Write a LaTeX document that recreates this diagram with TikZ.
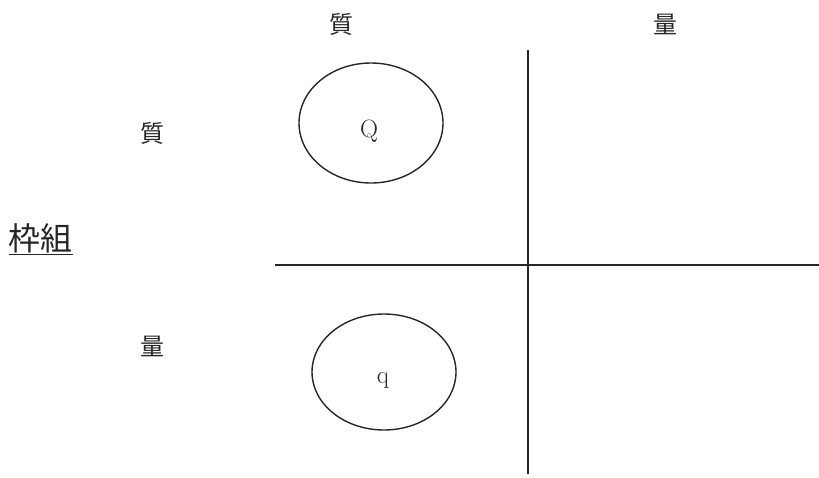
\documentclass[tikz,border=0pt]{standalone}
\usepackage{fontspec}
\newfontfamily\cjk{Noto Sans CJK JP}
\begin{document}
\begin{tikzpicture}[x=1pt,y=-1pt,
  axis/.style={line width=1.5pt,draw=black!85},
  circ/.style={line width=1.4pt,draw=black!85},
  lab/.style={font=\cjk\fontsize{24}{28}\selectfont,text=black!85,inner sep=0pt},
  letter/.style={font=\fontsize{25}{28}\selectfont,text=black!85,inner sep=0pt}]
\useasboundingbox (0,0) rectangle (819,477);
\coordinate (vtop) at (528,50);
\coordinate (vbot) at (528,474);
\coordinate (hl) at (275,265);
\coordinate (hr) at (819,265);
\draw[axis] (vtop) -- (vbot);
\draw[axis] (hl) -- (hr);
\draw[circ] (371,123) ellipse [x radius=72, y radius=60];
\draw[circ] (384,372) ellipse [x radius=72, y radius=58];
\node[letter] (Q) at (369,131) {Q};
\node[letter] (q) at (383,380) {q};
\node[lab] (c1) at (341,24) {質};
\node[lab] (c2) at (665,24) {量};
\node[lab] (r1) at (152,133) {質};
\node[lab] (r2) at (152,346) {量};
\node[font=\cjk\fontsize{32}{36}\selectfont,text=black!85,inner sep=0pt] (fw) at (41,239) {\underline{枠組}};
\end{tikzpicture}
\end{document}
